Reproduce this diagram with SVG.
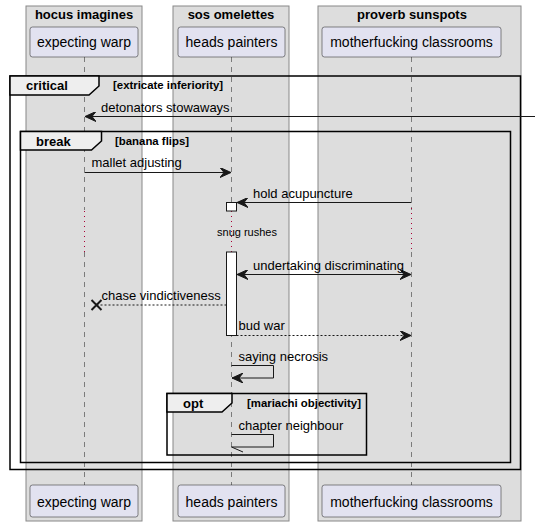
<svg xmlns="http://www.w3.org/2000/svg" width="535" height="527" viewBox="0 0 535 527">
  <style>
    text { font-family: "Liberation Sans", Arial, sans-serif; fill: #000; }
    .boxgrp { fill: #DDDDDD; stroke: #888888; stroke-width: 1; }
    .boxttl { font-size: 13px; font-weight: bold; text-anchor: middle; }
    .part { fill: #E2E2F0; stroke: #181818; stroke-width: 0.5; }
    .ptxt { font-size: 14px; text-anchor: middle; }
    .life { stroke: #181818; stroke-width: 0.5; stroke-dasharray: 5 5; fill: none; }
    .delay { stroke: #A80036; stroke-width: 1; stroke-dasharray: 1 4; fill: none; }
    .frame { fill: none; stroke: #000; stroke-width: 1.5; }
    .tab { fill: #EEEEEE; stroke: #000; stroke-width: 1.5; }
    .ftitle { font-size: 13px; font-weight: bold; }
    .fcond { font-size: 11.4px; font-weight: bold; }
    .msg { stroke: #181818; stroke-width: 1; fill: none; }
    .dash { stroke-dasharray: 2 2; }
    .mtxt { font-size: 13px; }
    .head { fill: #181818; stroke: #181818; stroke-width: 1; }
    .act { fill: #FFFFFF; stroke: #181818; stroke-width: 1; }
  </style>
  <defs>
    <marker id="arr" viewBox="0 0 12 10" refX="11" refY="5" markerWidth="12" markerHeight="10" markerUnits="userSpaceOnUse" orient="auto-start-reverse">
      <path d="M0,0 L11,5 L0,10 L4,5 Z" class="head"/>
    </marker>
  </defs>

  <!-- box groups -->
  <g id="box-hocus">
    <rect class="boxgrp" x="26" y="6" width="116" height="515"/>
    <text class="boxttl" x="84" y="19">hocus imagines</text>
  </g>
  <g id="box-sos">
    <rect class="boxgrp" x="173" y="6" width="116" height="515"/>
    <text class="boxttl" x="231" y="19">sos omelettes</text>
  </g>
  <g id="box-proverb">
    <rect class="boxgrp" x="318" y="6" width="203" height="515"/>
    <text class="boxttl" x="412" y="19">proverb sunspots</text>
  </g>

  <!-- lifelines -->
  <g id="lifelines">
    <path class="life" d="M84.5,57 V210 M84.5,252 V485"/>
    <path class="life" d="M231.5,57 V210 M231.5,252 V485"/>
    <path class="life" d="M411.5,57 V210 M411.5,252 V485"/>
    <path class="delay" d="M84.5,211 V252 M231.5,211 V252 M411.5,208 V252"/>
  </g>

  <!-- participants -->
  <g id="expecting-warp">
    <rect class="part" x="30" y="27" width="108" height="30" rx="2.5"/>
    <text class="ptxt" x="84" y="47">expecting warp</text>
    <rect class="part" x="30" y="485" width="108" height="32" rx="2.5"/>
    <text class="ptxt" x="84" y="507">expecting warp</text>
  </g>
  <g id="heads-painters">
    <rect class="part" x="178" y="27" width="107" height="30" rx="2.5"/>
    <text class="ptxt" x="231.5" y="47">heads painters</text>
    <rect class="part" x="178" y="485" width="107" height="32" rx="2.5"/>
    <text class="ptxt" x="231.5" y="507">heads painters</text>
  </g>
  <g id="motherfucking-classrooms">
    <rect class="part" x="322" y="27" width="179" height="30" rx="2.5"/>
    <text class="ptxt" x="411.5" y="47">motherfucking classrooms</text>
    <rect class="part" x="322" y="485" width="179" height="32" rx="2.5"/>
    <text class="ptxt" x="411.5" y="507">motherfucking classrooms</text>
  </g>

  <!-- activation bars -->
  <g id="activation">
    <rect class="act" x="226.5" y="202.5" width="10" height="8.5"/>
    <rect class="act" x="226.5" y="252" width="10" height="83.5"/>
  </g>

  <!-- combined fragments -->
  <g id="frame-critical">
    <rect class="frame" x="10" y="76" width="510.5" height="393.5"/>
    <path class="tab" d="M10,76 H99 V86 L89,95 H10 Z"/>
    <text class="ftitle" x="26" y="90">critical</text>
    <text class="fcond" x="113" y="89">[extricate inferiority]</text>
  </g>
  <g id="frame-break">
    <rect class="frame" x="20.5" y="131.5" width="490" height="331"/>
    <path class="tab" d="M20.5,131.5 H101.5 V141 L91.5,150 H20.5 Z"/>
    <text class="ftitle" x="36" y="146">break</text>
    <text class="fcond" x="115" y="145">[banana flips]</text>
  </g>
  <g id="frame-opt">
    <rect class="frame" x="167" y="393.5" width="199.5" height="61.5"/>
    <path class="tab" d="M167,393.5 H232 V403 L222,412 H167 Z"/>
    <text class="ftitle" x="183" y="408">opt</text>
    <text class="fcond" x="247" y="407">[mariachi objectivity]</text>
  </g>

  <!-- messages -->
  <g id="connectors">
    <line class="msg" x1="535" y1="116.5" x2="85" y2="116.5" marker-end="url(#arr)"/>
    <text class="mtxt" x="101" y="112">detonators stowaways</text>

    <line class="msg" x1="84.5" y1="172.5" x2="231" y2="172.5" marker-end="url(#arr)"/>
    <text class="mtxt" x="91.5" y="167">mallet adjusting</text>

    <line class="msg" x1="411.5" y1="202.5" x2="237" y2="202.5" marker-end="url(#arr)"/>
    <text class="mtxt" x="253" y="198">hold acupuncture</text>

    <text x="247" y="236" font-size="11" text-anchor="middle">snug rushes</text>

    <line class="msg" x1="237" y1="274.5" x2="411" y2="274.5" marker-start="url(#arr)" marker-end="url(#arr)"/>
    <text class="mtxt" x="253" y="270">undertaking discriminating</text>

    <line class="msg dash" x1="226.5" y1="305" x2="97" y2="305"/>
    <path d="M91.5,300 L101.5,310 M91.5,310 L101.5,300" stroke="#181818" stroke-width="2" fill="none"/>
    <text class="mtxt" x="101.5" y="300">chase vindictiveness</text>

    <line class="msg dash" x1="236.5" y1="335.5" x2="411" y2="335.5" marker-end="url(#arr)"/>
    <text class="mtxt" x="238.5" y="330">bud war</text>

    <path class="msg" d="M231.5,365.5 H273.5 V378 H232" marker-end="url(#arr)"/>
    <text class="mtxt" x="238.5" y="361">saying necrosis</text>

    <path class="msg" d="M231.5,434.5 H273.5 V447 H231.5 L243,452"/>
    <text class="mtxt" x="238.5" y="430">chapter neighbour</text>
  </g>
</svg>
